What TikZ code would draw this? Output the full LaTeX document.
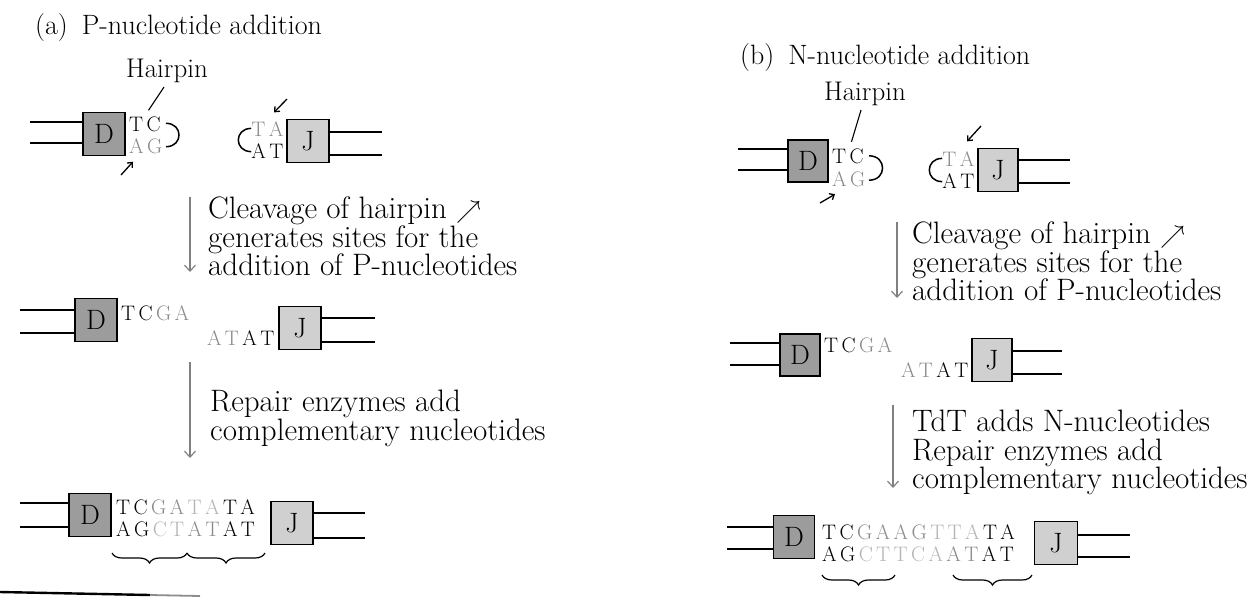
\documentclass[tikz,border=0pt]{standalone}
\usetikzlibrary{arrows.meta,positioning,decorations.pathreplacing}
\definecolor{dk}{HTML}{9C9C9C}
\definecolor{lt}{HTML}{D0D0D0}
\definecolor{pn}{HTML}{8A8A8A}
\definecolor{fl}{HTML}{B4B4B4}
\definecolor{arr}{HTML}{808080}
\makeatletter
\newcommand\lsp[1]{\@tfor\nx:=#1\do{\nx\kern3.4pt}}
\makeatother
\tikzset{
  dbox/.style={draw=black,line width=1.4pt,fill=dk,minimum width=42pt,minimum height=43pt,inner sep=0pt,font=\fontsize{28}{28}\selectfont},
  jbox/.style={dbox,fill=lt},
  strand/.style={line width=1.5pt},
  nt/.style={inner sep=0pt,font=\fontsize{21}{22}\selectfont},
  lbl/.style={inner sep=0pt,align=left,font=\fontsize{31}{28.5}\selectfont},
  ttl/.style={inner sep=0pt,font=\fontsize{28}{28}\selectfont},
  ar/.style={-{Straight Barb[length=6pt,width=11pt]},draw=arr,line width=1.2pt},
  cut/.style={-{Straight Barb[length=4pt,width=7pt]},line width=1.3pt},
  brc/.style={decorate,decoration={brace,mirror,amplitude=10pt},line width=1.2pt},
}
\begin{document}
\begin{tikzpicture}[x=1pt,y=-1pt]
\useasboundingbox (0,0) rectangle (1253,598);

% (a) P-nucleotide addition
\node[ttl,anchor=west] (ta) at (35,28) {(a)\enspace P-nucleotide addition};
\node[ttl,font=\fontsize{27}{27}\selectfont] (hp1) at (167,71) {Hairpin};

\node[dbox] (d1) at (104,134) {D};
\node[nt,align=left,anchor=west] (n1) at (129,135) {\lsp{TC}\\\textcolor{pn}{\lsp{AG}}};
\coordinate (d1u) at (30,122);
\coordinate (d1l) at (30,143);
\draw[strand] (d1u) -- (d1u -| d1.west);
\draw[strand] (d1l) -- (d1l -| d1.west);
\draw[strand] ([yshift=-7pt]n1.north east) to[out=0,in=0,looseness=1.9] ([yshift=7pt]n1.south east);
\draw[line width=1.1pt] ([xshift=-3pt,yshift=-4pt]hp1.south) -- ([xshift=1pt,yshift=6pt]n1.north);
\coordinate (c1) at (121,175);
\draw[cut] (c1) -- ([xshift=4pt,yshift=-8pt]n1.south west);

\node[jbox] (j1) at (308,141) {J};
\node[nt,align=right,anchor=east] (n2) at (287,140) {\textcolor{pn}{\lsp{TA}}\\\lsp{AT}};
\coordinate (j1u) at (382,132);
\coordinate (j1l) at (382,155);
\draw[strand] (j1u -| j1.east) -- (j1u);
\draw[strand] (j1l -| j1.east) -- (j1l);
\draw[strand] ([yshift=-7pt]n2.north west) to[out=180,in=180,looseness=1.9] ([yshift=7pt]n2.south west);
\coordinate (c2) at (287,99);
\draw[cut] (c2) -- ([xshift=-13pt,yshift=9pt]n2.north east);

\coordinate (a1s) at (190,197);
\coordinate (a1e) at (190,272);
\draw[ar] (a1s) -- (a1e);
\node[lbl,anchor=north west] (t1) at (208,197) {Cleavage of hairpin $\nearrow$\\generates sites for the\\addition of P-nucleotides};

\node[dbox] (d2) at (96,320) {D};
\coordinate (d2u) at (20,310);
\coordinate (d2l) at (20,333);
\draw[strand] (d2u) -- (d2u -| d2.west);
\draw[strand] (d2l) -- (d2l -| d2.west);
\node[nt,anchor=west] (tcga2) at (121,313) {\lsp{TC}\textcolor{pn}{\lsp{GA}}};
\node[nt,anchor=east] (atat2) at (278,338) {\textcolor{pn}{\lsp{AT}}\lsp{AT}};
\node[jbox] (j2) at (300,328) {J};
\coordinate (j2u) at (375,318);
\coordinate (j2l) at (375,342);
\draw[strand] (j2u -| j2.east) -- (j2u);
\draw[strand] (j2l -| j2.east) -- (j2l);

\coordinate (a2s) at (190,362);
\coordinate (a2e) at (190,458);
\draw[ar] (a2s) -- (a2e);
\node[lbl,anchor=north west] (t2) at (210,390) {Repair enzymes add\\complementary nucleotides};

\node[dbox] (d3) at (90,515) {D};
\coordinate (d3u) at (20,503);
\coordinate (d3l) at (20,527);
\draw[strand] (d3u) -- (d3u -| d3.west);
\draw[strand] (d3l) -- (d3l -| d3.west);
\node[nt,align=left,anchor=west] (n3) at (116,518) {\lsp{TC}\textcolor{pn}{\lsp{GA}}\textcolor{fl}{\lsp{TA}}\lsp{TA}\\\lsp{AG}\textcolor{fl}{\lsp{CT}}\textcolor{pn}{\lsp{AT}}\lsp{AT}};
\node[jbox] (j3) at (292,523) {J};
\coordinate (j3u) at (365,513);
\coordinate (j3l) at (365,538);
\draw[strand] (j3u -| j3.east) -- (j3u);
\draw[strand] (j3l -| j3.east) -- (j3l);
\draw[brc] (112,553) -- (187,553);
\draw[brc] (187,553) -- (265,553);

\draw[line width=2.4pt] (0,592) -- (150,595);
\draw[line width=1.8pt,black!45] (150,595) -- (200,596);

% (b) N-nucleotide addition
\node[ttl,anchor=west] (tb) at (740,58) {(b)\enspace N-nucleotide addition};
\node[ttl,font=\fontsize{27}{27}\selectfont] (hp2) at (865,94) {Hairpin};

\node[dbox,minimum width=40pt,minimum height=42pt] (d4) at (808,161) {D};
\node[nt,font=\fontsize{21}{23}\selectfont,align=left,anchor=west] (n4) at (832,168) {\lsp{TC}\\\textcolor{pn}{\lsp{AG}}};
\coordinate (d4u) at (738,149);
\coordinate (d4l) at (738,170);
\draw[strand] (d4u) -- (d4u -| d4.west);
\draw[strand] (d4l) -- (d4l -| d4.west);
\draw[strand] ([yshift=-7pt]n4.north east) to[out=0,in=0,looseness=1.9] ([yshift=7pt]n4.south east);
\draw[line width=1.1pt] ([xshift=-4pt,yshift=-4pt]hp2.south) -- ([xshift=1pt,yshift=7pt]n4.north);
\coordinate (c4) at (820,203);
\draw[cut] (c4) -- ([xshift=3pt,yshift=-7pt]n4.south west);

\node[jbox,minimum width=40pt,minimum height=43pt] (j4) at (998,170) {J};
\node[nt,align=right,anchor=east] (n5) at (978,170) {\textcolor{pn}{\lsp{TA}}\\\lsp{AT}};
\coordinate (j4u) at (1070,160);
\coordinate (j4l) at (1070,183);
\draw[strand] (j4u -| j4.east) -- (j4u);
\draw[strand] (j4l -| j4.east) -- (j4l);
\draw[strand] ([yshift=-7pt]n5.north west) to[out=180,in=180,looseness=1.9] ([yshift=7pt]n5.south west);
\coordinate (c5) at (981,126);
\draw[cut] (c5) -- ([xshift=-11pt,yshift=10pt]n5.north east);

\coordinate (b1s) at (897,222);
\coordinate (b1e) at (897,298);
\draw[ar] (b1s) -- (b1e);
\node[lbl,anchor=north west] (t3) at (912,222) {Cleavage of hairpin $\nearrow$\\generates sites for the\\addition of P-nucleotides};

\node[dbox,minimum width=40pt,minimum height=42pt] (d5) at (800,355) {D};
\coordinate (d5u) at (730,343);
\coordinate (d5l) at (730,365);
\draw[strand] (d5u) -- (d5u -| d5.west);
\draw[strand] (d5l) -- (d5l -| d5.west);
\node[nt,anchor=west] (tcga5) at (824,345) {\lsp{TC}\textcolor{pn}{\lsp{GA}}};
\node[nt,anchor=east] (atat5) at (972,370) {\textcolor{pn}{\lsp{AT}}\lsp{AT}};
\node[jbox,minimum width=40pt,minimum height=43pt] (j5) at (992,360) {J};
\coordinate (j5u) at (1062,351);
\coordinate (j5l) at (1062,374);
\draw[strand] (j5u -| j5.east) -- (j5u);
\draw[strand] (j5l -| j5.east) -- (j5l);

\coordinate (b2s) at (893,405);
\coordinate (b2e) at (893,488);
\draw[ar] (b2s) -- (b2e);
\node[lbl,anchor=north west] (t4) at (912,410) {TdT adds N-nucleotides\\Repair enzymes add\\complementary nucleotides};

\node[dbox,minimum width=41pt] (d6) at (794,537) {D};
\coordinate (d6u) at (727,527);
\coordinate (d6l) at (727,549);
\draw[strand] (d6u) -- (d6u -| d6.west);
\draw[strand] (d6l) -- (d6l -| d6.west);
\node[nt,align=left,anchor=west] (n6) at (822,543.5) {\lsp{TC}\textcolor{pn}{\lsp{GAAG}}\textcolor{fl}{\lsp{TTA}}\lsp{TA}\\\lsp{AG}\textcolor{fl}{\lsp{CTTCA}}\textcolor{pn}{\lsp{AT}}\lsp{AT}};
\node[jbox,minimum width=43pt] (j6) at (1056,543) {J};
\coordinate (j6u) at (1130,535);
\coordinate (j6l) at (1130,557);
\draw[strand] (j6u -| j6.east) -- (j6u);
\draw[strand] (j6l -| j6.east) -- (j6l);
\draw[brc] (822,575) -- (895,575);
\draw[brc] (953,575) -- (1032,575);
\end{tikzpicture}
\end{document}
